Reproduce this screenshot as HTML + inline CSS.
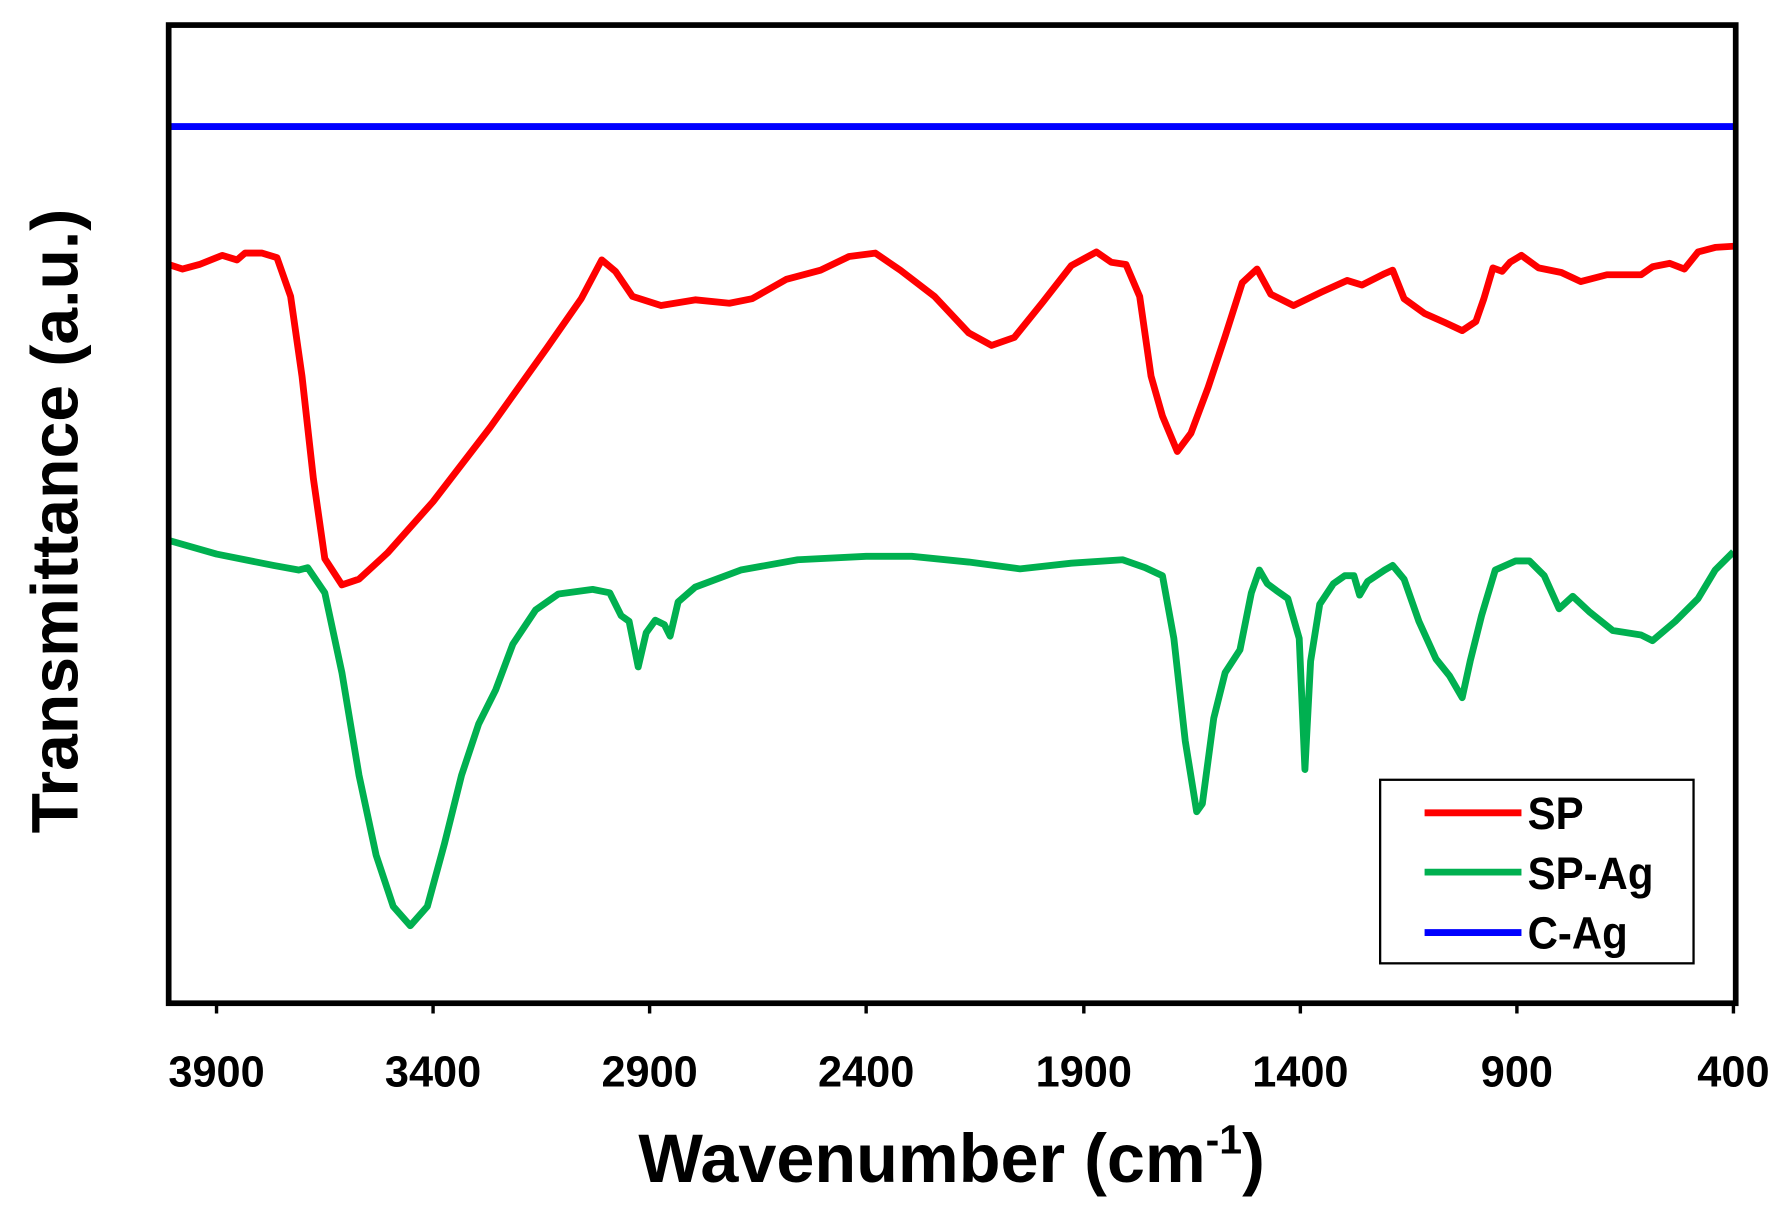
<!DOCTYPE html>
<html><head><meta charset="utf-8"><style>html,body{margin:0;padding:0;background:#fff}svg{display:block}</style></head>
<body>
<svg width="1787" height="1213" viewBox="0 0 1568 1064" preserveAspectRatio="none" xmlns="http://www.w3.org/2000/svg" font-family="'Liberation Sans', sans-serif" font-weight="bold">
<rect width="1568" height="1064" fill="#fff"/>
<polyline fill="none" stroke="#0000ff" stroke-width="6" points="148,111 1521,111"/>
<polyline fill="none" stroke="#ff0000" stroke-width="6" stroke-linejoin="round" points="148,232 160,236 175,232 195,224 208,228 215,222 230,222 243,226 255,260 265,330 275,420 285,490 300,513 315,508 340,485 380,440 430,375 480,305 510,262 528,228 540,238 555,260 580,268 610,263 640,266 660,262 690,245 720,237 745,225 768,222 790,237 820,260 850,292 870,303 890,296 915,265 940,233 962,221 975,230 988,232 1000,260 1010,330 1020,365 1033,396 1045,380 1060,340 1075,295 1090,248 1103,236 1115,258 1135,268 1160,256 1182,246 1195,250 1215,240 1222,237 1232,262 1250,275 1268,283 1283,290 1295,282 1302,262 1310,235 1318,238 1325,230 1335,224 1350,235 1370,239 1387,247 1410,241 1440,241 1450,234 1465,231 1478,236 1490,221 1505,217 1521,216"/>
<polyline fill="none" stroke="#00b050" stroke-width="6" stroke-linejoin="round" points="148,474 190,486 240,496 262,500 270,498 285,520 300,590 315,680 330,750 345,795 360,812 375,795 390,740 405,680 420,635 435,605 450,565 470,535 490,521 520,517 535,520 545,540 552,545 560,585 567,555 575,544 583,548 588,558 595,528 610,515 650,500 700,491 760,488 800,488 850,493 895,499 940,494 985,491 1005,498 1020,505 1030,560 1040,650 1050,712 1055,705 1065,630 1075,590 1088,570 1098,520 1105,500 1112,512 1120,518 1130,525 1140,560 1145,675 1150,580 1158,530 1170,512 1180,505 1188,505 1193,522 1200,510 1215,500 1222,496 1232,508 1245,545 1260,578 1272,593 1283,612 1290,580 1300,540 1312,500 1330,492 1342,492 1355,505 1368,534 1380,523 1395,537 1415,553 1440,557 1450,562 1470,545 1490,525 1505,500 1521,484"/>
<rect x="148" y="22" width="1375" height="858" fill="none" stroke="#000" stroke-width="5"/>
<g stroke="#000" stroke-width="3">
<line x1="190" y1="880" x2="190" y2="889"/><line x1="380" y1="880" x2="380" y2="889"/><line x1="570" y1="880" x2="570" y2="889"/><line x1="760" y1="880" x2="760" y2="889"/><line x1="951" y1="880" x2="951" y2="889"/><line x1="1141" y1="880" x2="1141" y2="889"/><line x1="1331" y1="880" x2="1331" y2="889"/><line x1="1521" y1="880" x2="1521" y2="889"/>
</g>
<g font-size="38" text-anchor="middle" fill="#000">
<text x="190" y="953">3900</text><text x="380" y="953">3400</text><text x="570" y="953">2900</text><text x="760" y="953">2400</text><text x="951" y="953">1900</text><text x="1141" y="953">1400</text><text x="1331" y="953">900</text><text x="1521" y="953">400</text>
</g>
<text x="835" y="1037" font-size="60" text-anchor="middle" fill="#000">Wavenumber (cm<tspan font-size="36" dy="-25">-1</tspan><tspan dy="25">)</tspan></text>
<text transform="translate(68,457) rotate(-90)" font-size="58" text-anchor="middle" fill="#000">Transmittance  (a.u.)</text>
<rect x="1211" y="684" width="275" height="161" fill="#fff" stroke="#000" stroke-width="2"/>
<line x1="1250" y1="713" x2="1335" y2="713" stroke="#ff0000" stroke-width="6"/>
<line x1="1250" y1="765" x2="1335" y2="765" stroke="#00b050" stroke-width="6"/>
<line x1="1250" y1="818" x2="1335" y2="818" stroke="#0000ff" stroke-width="6"/>
<g font-size="40" fill="#000" transform="scale(0.92,1)">
<text x="1457" y="727">SP</text><text x="1457" y="780">SP-Ag</text><text x="1457" y="832">C-Ag</text>
</g>
</svg>
</body></html>
